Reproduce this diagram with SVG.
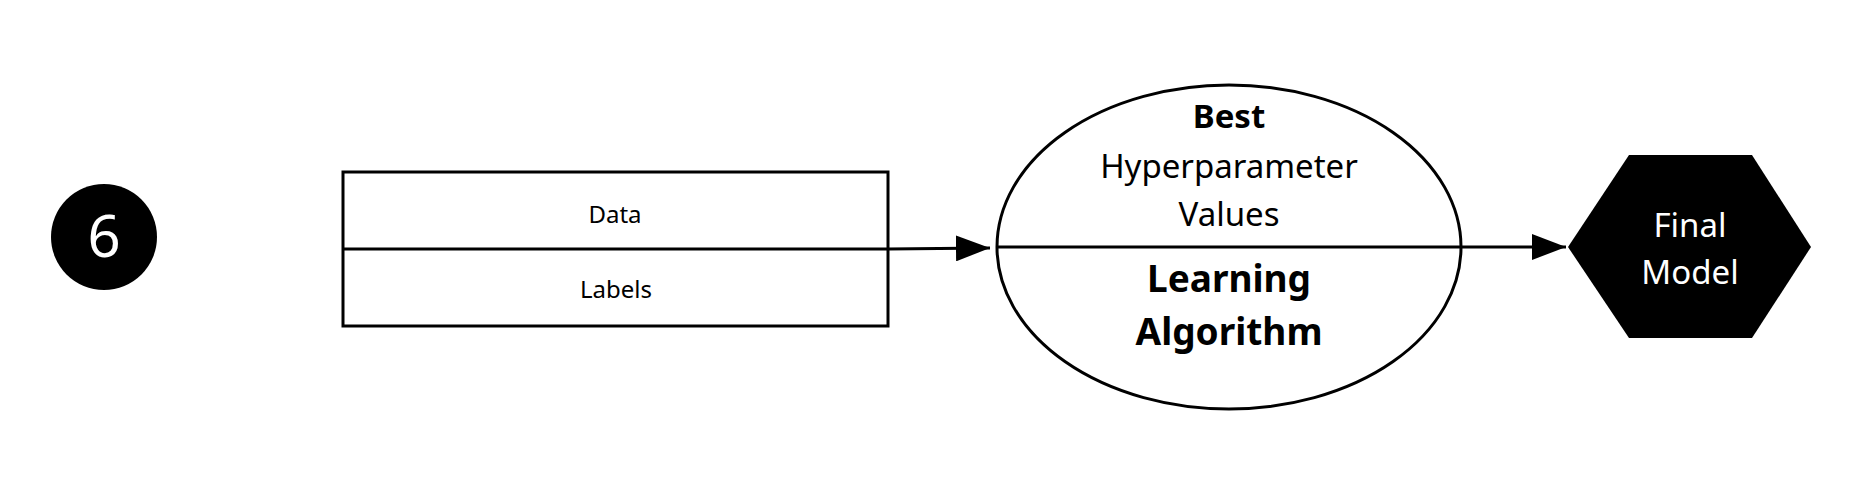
<svg xmlns="http://www.w3.org/2000/svg" width="1854" height="488" viewBox="0 0 1854 488">
<style>
text{font-family:"Noto Sans","Liberation Sans",sans-serif;text-anchor:middle}
.ln{stroke:#000;stroke-width:3;fill:none}
.sm{font-size:24px;fill:#000}
.big{font-size:33px;fill:#000}
.bold{font-weight:700}
.wt{fill:#fff}
</style>
<defs>
<marker id="ah" viewBox="0 0 34 26" refX="34" refY="13" markerWidth="34" markerHeight="26" markerUnits="userSpaceOnUse" orient="auto">
<path d="M0,0 L34,13 L0,26 Z" fill="#000"/>
</marker>
</defs>
<rect width="1854" height="488" fill="#fff"/>
<g id="step">
<circle cx="104" cy="237" r="53" fill="#000"/>
<text x="104" y="257" class="wt" style="font-size:58px">6</text>
</g>
<g id="input">
<rect x="343" y="172" width="545" height="154" class="ln"/>
<line x1="343" y1="249" x2="888" y2="249" class="ln"/>
<text x="615" y="223" class="sm">Data</text>
<text x="616" y="298" class="sm">Labels</text>
</g>
<g id="algorithm">
<ellipse cx="1229" cy="247" rx="232" ry="162" class="ln"/>
<line x1="997" y1="247" x2="1461" y2="247" class="ln"/>
<text x="1229" y="128" class="big bold">Best</text>
<text x="1229" y="178" class="big">Hyperparameter</text>
<text x="1229" y="226" class="big">Values</text>
<text x="1229" y="292" class="bold" style="font-size:37px">Learning</text>
<text x="1229" y="345" class="bold" style="font-size:37px">Algorithm</text>
</g>
<g id="final">
<polygon points="1568,247 1629,155 1752,155 1811,247 1752,338 1629,338" fill="#000"/>
<text x="1690" y="237" class="wt" style="font-size:33px">Final</text>
<text x="1690" y="284" class="wt" style="font-size:33px">Model</text>
</g>
<g id="connectors">
<line x1="888" y1="249" x2="990" y2="248" class="ln" marker-end="url(#ah)"/>
<line x1="1461" y1="247" x2="1566" y2="247" class="ln" marker-end="url(#ah)"/>
</g>
</svg>
